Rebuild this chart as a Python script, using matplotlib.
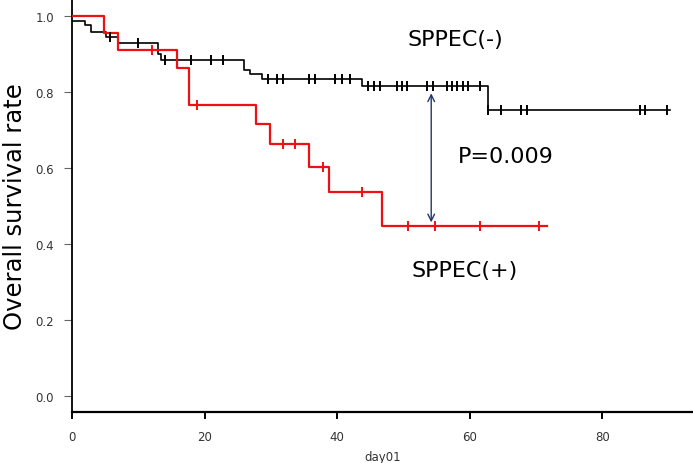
import matplotlib
matplotlib.use("Agg")
import matplotlib.pyplot as plt

# SPPEC(-) curve: step times (days) and survival after each step
neg_step_days = [0, 1.9, 2.9, 5.2, 7.0, 13.0, 13.4, 25.9, 26.9, 28.6, 43.8, 62.8]
neg_step_surv = [0.987, 0.978, 0.959, 0.946, 0.930, 0.901, 0.885, 0.858, 0.847, 0.835, 0.816, 0.754]
neg_end_day = 90.3
neg_censor_days = [5.8, 9.9, 14.0, 17.9, 20.9, 22.8, 29.6, 31.0, 31.8, 35.7, 36.7,
                   39.7, 40.8, 41.9, 44.7, 45.5, 46.5, 49.1, 49.8, 50.6, 53.6, 54.4,
                   56.6, 57.4, 58.1, 59.0, 59.8, 61.6, 62.8, 64.8, 67.8, 68.7,
                   85.7, 86.5, 89.8]

# SPPEC(+) curve
pos_step_days = [0, 4.9, 6.9, 15.9, 17.7, 27.8, 29.8, 35.8, 38.8, 46.8]
pos_step_surv = [1.0, 0.956, 0.910, 0.863, 0.766, 0.715, 0.663, 0.604, 0.538, 0.448]
pos_end_day = 71.6
pos_censor_days = [12.1, 18.9, 31.9, 33.7, 37.8, 43.8, 50.7, 54.7, 61.6, 70.5]

arrow_day = 54.2
arrow_top = 0.797
arrow_bottom = 0.457

x_ticks = [0, 20, 40, 60, 80]
y_ticks = [0.0, 0.2, 0.4, 0.6, 0.8, 1.0]


def surv_at(days, surv, t):
    s = surv[0]
    for d, v in zip(days, surv):
        if d <= t:
            s = v
    return s


def draw_curve(ax, days, surv, end_day, censors, color, lw):
    xs = list(days) + [end_day]
    ys = list(surv) + [surv[-1]]
    ax.step(xs, ys, where="post", color=color, lw=lw, zorder=3)
    cy = [surv_at(days, surv, t) for t in censors]
    ax.plot(censors, cy, ls="none", marker="|", ms=7, mew=1.4, color=color, zorder=4)


fig = plt.figure(figsize=(6.93, 4.64), dpi=100)
ax = fig.add_axes([72 / 693, (464 - 412.7) / 464, 1 - 72 / 693, 412.7 / 464])

draw_curve(ax, neg_step_days, neg_step_surv, neg_end_day, neg_censor_days, "black", 1.2)
draw_curve(ax, pos_step_days, pos_step_surv, pos_end_day, pos_censor_days, "#ee1111", 1.6)

ax.annotate("", xy=(arrow_day, arrow_top), xytext=(arrow_day, arrow_bottom),
            arrowprops=dict(arrowstyle="<->", color="#23366b", lw=1.0,
                            mutation_scale=12, shrinkA=0, shrinkB=0))

ax.text(57.8, 0.940, "SPPEC(-)", fontsize=16, ha="center", va="center")
ax.text(65.4, 0.633, "P=0.009", fontsize=16, ha="center", va="center")
ax.text(59.2, 0.332, "SPPEC(+)", fontsize=16, ha="center", va="center")

ax.set_xlim(0, 93.7)
ax.set_ylim(-0.042, 1.0456)
ax.set_xticks(x_ticks)
ax.set_yticks(y_ticks)
ax.set_yticklabels([f"{v:.1f}" for v in y_ticks])

for side in ("top", "right"):
    ax.spines[side].set_visible(False)
ax.spines["left"].set_linewidth(1.3)
ax.spines["bottom"].set_linewidth(1.6)

ax.tick_params(axis="y", direction="out", length=6, width=0.8, color="#666666",
               pad=7, labelsize=8.5, labelcolor="#333333")
ax.tick_params(axis="x", direction="out", length=5, width=1.4, color="black",
               pad=8, labelsize=8.5, labelcolor="#333333")

ax.set_xlabel("day01", fontsize=8.5, color="#333333", labelpad=5)
ax.set_ylabel("Overall survival rate", fontsize=17.5, va="center")
ax.yaxis.set_label_coords((15 - 72) / 621, 0.5)

fig.savefig("out.png", dpi=100)
